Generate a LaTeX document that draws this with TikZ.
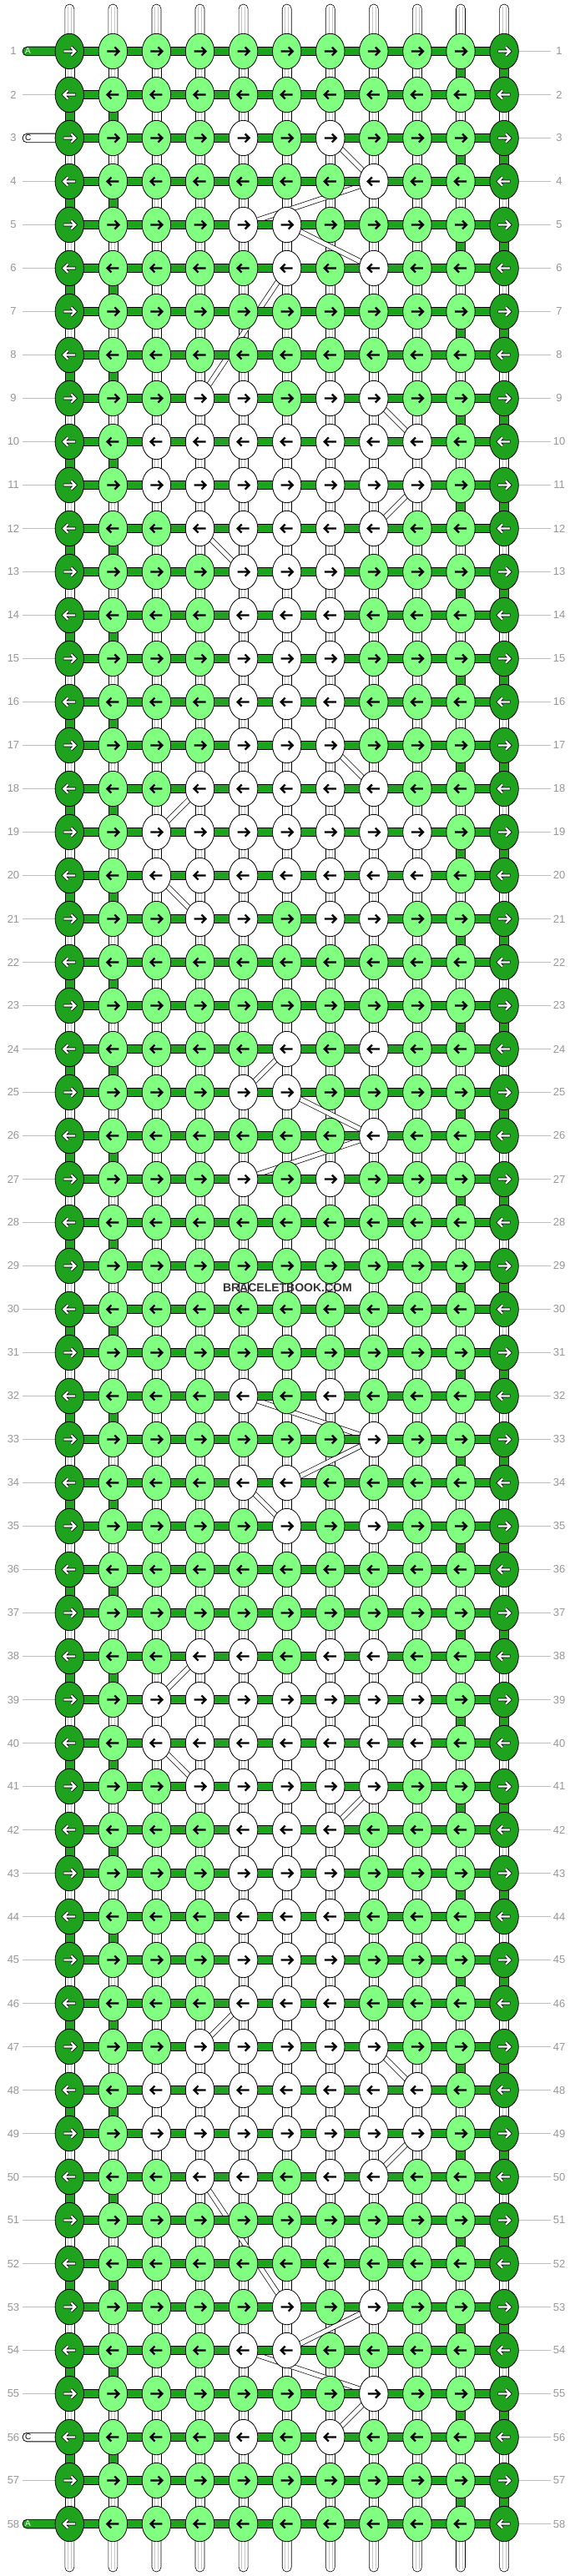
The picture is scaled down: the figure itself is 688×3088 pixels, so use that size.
\documentclass[tikz,border=0pt]{standalone}
\usepackage{fontspec}
\setmainfont{Liberation Sans}
\usetikzlibrary{calc,shapes.geometric}
\definecolor{dkg}{RGB}{31,163,31}
\definecolor{kcL}{RGB}{128,255,128}
\definecolor{kcW}{RGB}{255,255,255}
\definecolor{lblgray}{RGB}{150,150,150}
\definecolor{linegray}{RGB}{190,190,190}
\definecolor{wmgray}{RGB}{51,51,51}
\pgfdeclarelayer{strings}
\pgfdeclarelayer{bands}
\pgfdeclarelayer{bars}
\pgfsetlayers{strings,bands,bars,main}
\def\patA{L,L,L,L,L,L,L,L,L}
\def\patB{L,L,L,W,L,W,L,L,L}
\def\patC{L,L,L,L,L,L,W,L,L}
\def\patD{L,L,L,W,W,L,L,L,L}
\def\patE{L,L,L,L,W,L,W,L,L}
\def\patF{L,L,W,W,L,W,W,L,L}
\def\patG{L,W,W,W,W,W,W,W,L}
\def\patH{L,L,W,W,W,W,W,L,L}
\def\patI{L,L,L,W,W,W,L,L,L}
\begin{document}
\begin{tikzpicture}[x=1pt,y=-1pt,
  knot/.style={ellipse,draw=black,line width=0.8pt,minimum width=34.4pt,minimum height=42.4pt,inner sep=0pt},
  hbar/.style={draw=black,line width=0.8pt,fill=dkg},
  vwhite/.style={draw=black,line width=0.6pt,fill=white},
  vgreen/.style={draw=black,line width=0.6pt,fill=dkg},
  innerline/.style={draw=black!22,line width=0.5pt},
  band/.style={draw=black,line width=0.7pt,double=white,double distance=5pt},
  arrk/.style={draw=black,line width=2.3pt,line join=miter,line cap=butt},
  grayline/.style={draw=linegray,line width=1.2pt},
  lbl/.style={text=lblgray,font=\fontsize{13}{13}\selectfont,inner sep=0pt}
]
\useasboundingbox (0,0) rectangle (688,3088);
% knots and labels
\foreach \rw/\p in {1/\patA,2/\patA,3/\patB,4/\patC,5/\patD,6/\patE,7/\patA,8/\patA,9/\patF,10/\patG,
  11/\patG,12/\patH,13/\patI,14/\patI,15/\patI,16/\patI,17/\patI,18/\patH,19/\patG,20/\patG,
  21/\patF,22/\patA,23/\patA,24/\patE,25/\patD,26/\patC,27/\patB,28/\patA,29/\patA,30/\patA,
  31/\patA,32/\patB,33/\patC,34/\patD,35/\patE,36/\patA,37/\patA,38/\patF,39/\patG,40/\patG,
  41/\patH,42/\patI,43/\patI,44/\patI,45/\patI,46/\patI,47/\patH,48/\patG,49/\patG,50/\patF,
  51/\patA,52/\patA,53/\patE,54/\patD,55/\patC,56/\patB,57/\patA,58/\patA}{
  \pgfmathsetmacro\yy{61.5+52*(\rw-1)}
  \edef\q{\p}
  \node[knot,fill=dkg] (k\rw-0) at (83.3,\yy) {};
  \foreach \kk [count=\cl] in \q {
    \pgfmathsetmacro\xx{83.3+52.08*\cl}
    \node[knot,fill=kc\kk] (k\rw-\cl) at (\xx,\yy) {};
  }
  \node[knot,fill=dkg] (k\rw-10) at (604.1,\yy) {};
  \coordinate (L\rw) at (27,\yy);
  \coordinate (R\rw) at (660,\yy);
  \node[lbl] (ln\rw) at (16,\yy) {\rw};
  \node[lbl] (rn\rw) at (670,\yy) {\rw};
}
% arrows
\foreach \rw in {1,...,58}{
  \pgfmathtruncatemacro\sg{mod(\rw,2)==1 ? 1 : -1}
  \foreach \cl in {1,...,9}{
    \draw[arrk,shift={(k\rw-\cl.center)},xscale=\sg] (-7,0) -- (6,0) (2,-5) -- (7,0) -- (2,5);
  }
  \foreach \cl in {0,10}{
    \draw[arrk,line width=3.9pt,shift={(k\rw-\cl.center)},xscale=\sg] (-7.5,0) -- (6,0) (2,-5) -- (7,0) -- (2,5);
    \draw[arrk,draw=white,shift={(k\rw-\cl.center)},xscale=\sg] (-7,0) -- (6,0) (2,-5) -- (7,0) -- (2,5);
  }
}
% watermark
\node[text=wmgray,font=\bfseries\fontsize{14}{14}\selectfont,inner sep=0pt] (wm) at (344.4,1543.5) {BRACELETBOOK.COM};
% strings and vertical connectors
\begin{pgfonlayer}{strings}
  \foreach \cl in {0,...,10}{
    \draw[vwhite,rounded corners=5.5pt] ($(k1-\cl.center)+(-5.5,0)$) -- ($(k1-\cl.center)+(-5.5,-56.5)$) -- ($(k1-\cl.center)+(5.5,-56.5)$) -- ($(k1-\cl.center)+(5.5,0)$);
    \draw[innerline] ($(k1-\cl.center)+(-2,-53)$) -- ($(k1-\cl.center)+(-2,0)$) ($(k1-\cl.center)+(2,-53)$) -- ($(k1-\cl.center)+(2,0)$);
    \draw[vwhite,rounded corners=5.5pt] ($(k58-\cl.center)+(-5.5,0)$) -- ($(k58-\cl.center)+(-5.5,57.5)$) -- ($(k58-\cl.center)+(5.5,57.5)$) -- ($(k58-\cl.center)+(5.5,0)$);
    \draw[innerline] ($(k58-\cl.center)+(-2,54)$) -- ($(k58-\cl.center)+(-2,0)$) ($(k58-\cl.center)+(2,54)$) -- ($(k58-\cl.center)+(2,0)$);
  }
  \foreach \rw in {1,...,57}{
    \pgfmathtruncatemacro\rr{\rw+1}
    \pgfmathtruncatemacro\od{mod(\rw,2)}
    \foreach \cl in {0,...,10}{
      \pgfmathtruncatemacro\isg{((\cl<2)&&(\od==0))||((\cl>8)&&(\od==1)) ? 1 : 0}
      \ifnum\isg=1
        \draw[vgreen] ($(k\rw-\cl.center)+(-5.5,0)$) rectangle ($(k\rr-\cl.center)+(5.5,0)$);
      \else
        \draw[vwhite] ($(k\rw-\cl.center)+(-5.5,0)$) rectangle ($(k\rr-\cl.center)+(5.5,0)$);
        \draw[innerline] ($(k\rw-\cl.center)+(-2,0)$) -- ($(k\rr-\cl.center)+(-2,0)$) ($(k\rw-\cl.center)+(2,0)$) -- ($(k\rr-\cl.center)+(2,0)$);
      \fi
    }
  }
  \foreach \rw in {1,...,58}{
    \draw[grayline] (k\rw-10.center) -- (R\rw);
    \ifnum\rw=1 \else\ifnum\rw=3 \else\ifnum\rw=56 \else\ifnum\rw=58 \else
      \draw[grayline] (L\rw) -- (k\rw-0.center);
    \fi\fi\fi\fi
  }
\end{pgfonlayer}
% skipped-string bands
\begin{pgfonlayer}{bands}
  \foreach \ra/\ca/\rb/\cb in {3/6/4/7,4/7/5/4,5/5/6/7,6/5/9/3,9/7/10/8,11/8/12/7,12/3/13/4,
    17/6/18/7,18/3/19/2,20/2/21/3,24/5/25/4,25/5/26/7,26/7/27/4,32/4/33/7,33/7/34/5,34/4/35/5,
    38/3/39/2,40/2/41/3,41/7/42/6,46/4/47/3,47/7/48/8,49/8/50/7,50/3/53/5,53/7/54/5,54/4/55/7,55/7/56/6}{
    \draw[band] (k\ra-\ca.center) -- (k\rb-\cb.center);
  }
\end{pgfonlayer}
% horizontal knotting strings
\begin{pgfonlayer}{bars}
  \foreach \rw in {1,...,58}{
    \draw[hbar] ($(k\rw-0.center)+(0,-5.35)$) rectangle ($(k\rw-10.center)+(0,5.35)$);
  }
  \foreach \rw/\fc/\tc/\lt in {1/dkg/white/A,3/white/black/C,56/white/black/C,58/dkg/white/A}{
    \draw[draw=black,line width=0.8pt,fill=\fc,rounded corners=5.3pt] ($(L\rw)+(0,-5.35)$) rectangle ($(k\rw-0.center)+(0,5.35)$);
    \node[text=\tc,font=\fontsize{10}{10}\selectfont,anchor=west,inner sep=0pt] (lab\rw) at ($(L\rw)+(3,0)$) {\lt};
  }
\end{pgfonlayer}
\end{tikzpicture}
\end{document}
